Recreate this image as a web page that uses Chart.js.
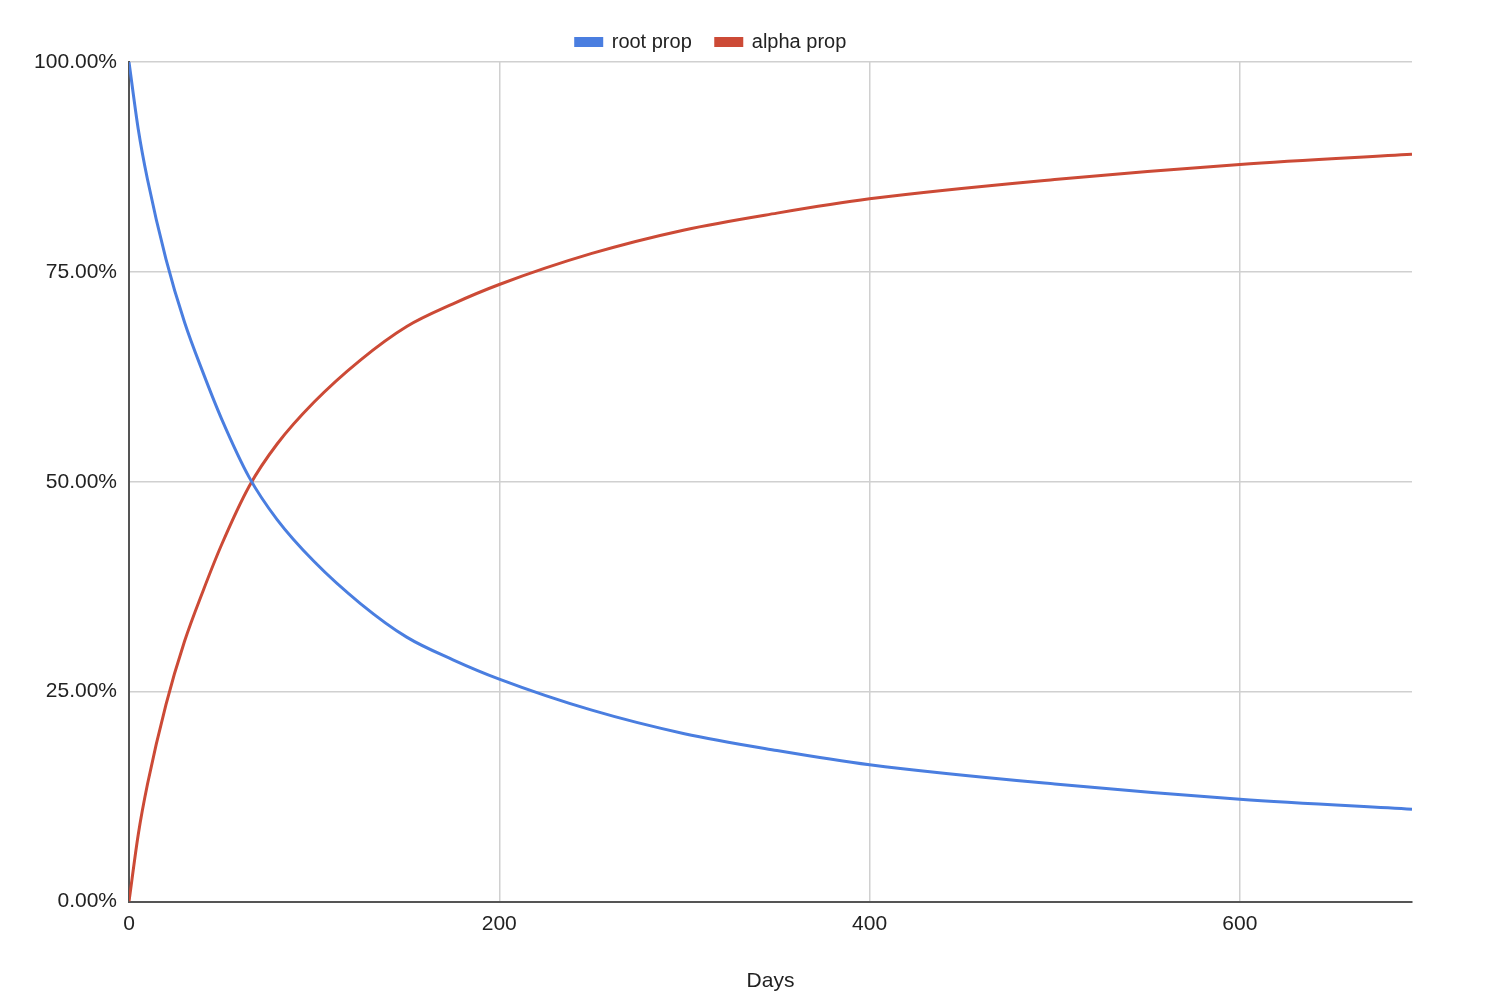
<!DOCTYPE html>
<html>
<head>
<meta charset="utf-8">
<script src="https://cdn.jsdelivr.net/npm/chart.js@4/dist/chart.umd.min.js"></script>
<style>
  body { margin: 0; background: #fff; }
  #wrap { width: 1500px; height: 1004px; }
</style>
</head>
<body>
<div id="wrap"><canvas id="chart"></canvas></div>
<script>
const days = [0, 5, 10, 20, 30, 40, 50, 65, 80, 100, 125, 150, 175, 200, 250, 300, 350, 400, 500, 600, 693];
const rootProp = [100, 92, 86, 76.5, 69, 63, 57.5, 50.5, 45.5, 40.5, 35.5, 31.5, 28.8, 26.5, 22.8, 20, 18, 16.3, 14, 12.2, 11];
const alphaProp = [0, 8, 14, 23.5, 31, 37, 42.5, 49.5, 54.5, 59.5, 64.5, 68.5, 71.2, 73.5, 77.2, 80, 82, 83.7, 86, 87.8, 89];
const yTicks = [0, 25, 50, 75, 100];

const pts = vals => days.map((d, i) => ({x: d, y: vals[i]}));
const font = {family: 'Liberation Sans, Arial, sans-serif', size: 21};

// nudge the legend to the right like the reference, and leave room under it
const legendShift = {
    id: 'legendShift',
    afterLayout(chart) {
        (chart.legend.legendHitBoxes || []).forEach(b => { b.left += 140; b.top -= 12; });
    }
};

new Chart(document.getElementById('chart'), {
    type: 'line',
    data: {
        datasets: [
            {label: 'root prop', data: pts(rootProp), borderColor: '#4a7ee0', backgroundColor: '#4a7ee0',
             borderWidth: 3, pointRadius: 0, cubicInterpolationMode: 'monotone'},
            {label: 'alpha prop', data: pts(alphaProp), borderColor: '#cc4a36', backgroundColor: '#cc4a36',
             borderWidth: 3, pointRadius: 0, cubicInterpolationMode: 'monotone'}
        ]
    },
    plugins: [legendShift],
    options: {
        responsive: true,
        maintainAspectRatio: false,
        animation: false,
        layout: {padding: {top: 8, right: 88, bottom: 6, left: 10}},
        plugins: {
            legend: {
                position: 'top',
                labels: {boxWidth: 26, boxHeight: 7, color: '#222', font: {family: font.family, size: 20}, padding: 24},
                afterFit: l => { l.height += 22; }
            },
            tooltip: {enabled: false}
        },
        scales: {
            x: {
                type: 'linear', min: 0, max: 693,
                afterBuildTicks: s => { s.ticks = [0, 200, 400, 600].map(v => ({value: v})); },
                grid: {color: '#d0d0d0', lineWidth: 1.5, drawTicks: false},
                border: {color: '#555', width: 2},
                ticks: {color: '#222', font: font, padding: 10},
                title: {display: true, text: 'Days', color: '#222', font: font, padding: {top: 22}}
            },
            y: {
                min: 0, max: 100,
                afterBuildTicks: s => { s.ticks = yTicks.map(v => ({value: v})); },
                afterFit: s => { s.width = 119; },
                grid: {color: '#d0d0d0', lineWidth: 1.5, drawTicks: false},
                border: {color: '#555', width: 2},
                ticks: {color: '#222', font: font, padding: 12, callback: v => v.toFixed(2) + '%'}
            }
        }
    }
});
</script>
</body>
</html>
